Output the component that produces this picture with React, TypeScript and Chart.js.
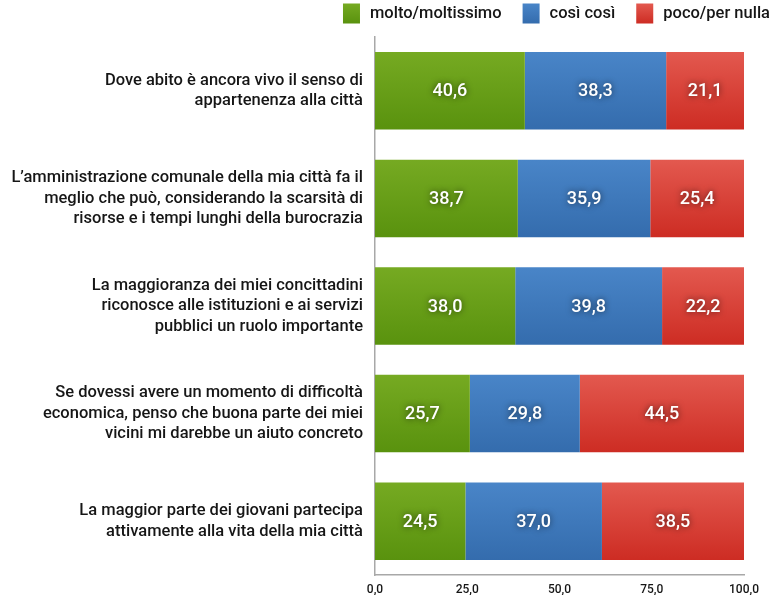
import React, { useEffect, useRef } from "react";
import { Chart, registerables } from "chart.js";
Chart.register(...registerables);

const categories: string[][] = [
  ["Dove abito è ancora vivo il senso di", "appartenenza alla città"],
  ["L’amministrazione comunale della mia città fa il", "meglio che può, considerando la scarsità di", "risorse e i tempi lunghi della burocrazia"],
  ["La maggioranza dei miei concittadini", "riconosce alle istituzioni e ai servizi", "pubblici un ruolo importante"],
  ["Se dovessi avere un momento di difficoltà", "economica, penso che buona parte dei miei", "vicini mi darebbe un aiuto concreto"],
  ["La maggior parte dei giovani partecipa", "attivamente alla vita della mia città"],
];
const seriesNames = ["molto/moltissimo", "così così", "poco/per nulla"];
const molto = [40.6, 38.7, 38.0, 25.7, 24.5];
const cosi = [38.3, 35.9, 39.8, 29.8, 37.0];
const poco = [21.1, 25.4, 22.2, 44.5, 38.5];
const xTicks = [0, 25, 50, 75, 100];

const palette = [
  ["#76aa22", "#59920e"],
  ["#4985c8", "#346cad"],
  ["#e3594f", "#cd2c23"],
];

const FONT = "Roboto, 'DejaVu Sans', sans-serif";
const TEXT = "#161616";

function grad(idx: number) {
  return (ctx: any) => {
    const chart = ctx.chart;
    const c = chart.ctx;
    const ys = chart.scales && chart.scales.y;
    if (!ys || ctx.type !== "data") return palette[idx][0];
    const y = ys.getPixelForValue(ctx.dataIndex);
    if (!isFinite(y)) return palette[idx][0];
    const half = 39;
    const g = c.createLinearGradient(0, y - half, 0, y + half);
    g.addColorStop(0, palette[idx][0]);
    g.addColorStop(1, palette[idx][1]);
    return g;
  };
}

const labelPlugin = {
  id: "valueLabels",
  afterDatasetsDraw(chart: any) {
    const c = chart.ctx;
    c.save();
    c.font = `500 18px ${FONT}`;
    c.textAlign = "center";
    c.textBaseline = "middle";
    chart.data.datasets.forEach((ds: any, i: number) => {
      const meta = chart.getDatasetMeta(i);
      meta.data.forEach((bar: any, j: number) => {
        const v = ds.data[j];
        const x = (bar.x + bar.base) / 2;
        c.shadowColor = "rgba(0,0,0,0.65)";
        c.shadowBlur = 6;
        c.fillStyle = "#ffffff";
        c.fillText(v.toFixed(1).replace(".", ","), x, bar.y + 1);
      });
    });
    c.restore();
  },
};

const legendPlugin = {
  id: "customLegend",
  afterDraw(chart: any) {
    const c = chart.ctx;
    c.save();
    c.font = `500 16.5px ${FONT}`;
    c.textBaseline = "middle";
    c.textAlign = "left";
    const boxW = 17;
    const boxH = 20;
    const gapBox = 10;
    const gapItem = 21;
    const widths = seriesNames.map((n) => c.measureText(n).width);
    const total = widths.reduce((a, w) => a + boxW + gapBox + w, 0) + gapItem * (seriesNames.length - 1);
    let x = 770 - total;
    const cy = 13.5;
    seriesNames.forEach((n, i) => {
      const g = c.createLinearGradient(0, cy - boxH / 2, 0, cy + boxH / 2);
      g.addColorStop(0, palette[i][0]);
      g.addColorStop(1, palette[i][1]);
      c.fillStyle = g;
      c.fillRect(x, cy - boxH / 2, boxW, boxH);
      x += boxW + gapBox;
      c.fillStyle = TEXT;
      c.fillText(n, x, cy);
      x += widths[i] + gapItem;
    });
    c.restore();
  },
};

export default function App() {
  const ref = useRef<HTMLCanvasElement>(null);
  useEffect(() => {
    document.body.style.margin = "0";
    const chart = new Chart(ref.current!, {
      type: "bar",
      data: {
        labels: categories,
        datasets: [molto, cosi, poco].map((d, i) => ({
          label: seriesNames[i],
          data: d,
          backgroundColor: grad(i),
          borderWidth: 0,
          barPercentage: 0.8,
          categoryPercentage: 0.9,
        })),
      },
      options: {
        indexAxis: "y",
        animation: false,
        responsive: false,
        maintainAspectRatio: false,
        layout: { padding: { left: 0, right: 27, top: 37, bottom: 2 } },
        plugins: {
          legend: { display: false },
          tooltip: { enabled: false },
        },
        scales: {
          x: {
            stacked: true,
            min: 0,
            max: 100,
            grid: { display: false, drawTicks: false },
            border: { display: true, color: "#a8a8a8", width: 1.5 },
            afterBuildTicks: (axis: any) => {
              axis.ticks = xTicks.map((v) => ({ value: v }));
            },
            afterFit: (axis: any) => {
              axis.height = 20;
            },
            ticks: {
              color: TEXT,
              padding: 8,
              maxRotation: 0,
              font: { family: FONT, size: 12, weight: 500 },
              callback: (v: any) => Number(v).toFixed(1).replace(".", ","),
            },
          },
          y: {
            stacked: true,
            grid: { display: false, drawTicks: false },
            border: { display: true, color: "#a8a8a8", width: 1.5 },
            afterFit: (axis: any) => {
              axis.width = 375;
              axis.paddingTop = 0;
              axis.paddingBottom = 0;
            },
            ticks: {
              color: TEXT,
              padding: 12,
              font: { family: FONT, size: 16.5, weight: 500, lineHeight: 1.25 },
            },
          },
        },
      },
      plugins: [labelPlugin, legendPlugin],
    } as any);
    return () => chart.destroy();
  }, []);
  return (
    <div style={{ width: 771, height: 597 }}>
      <canvas ref={ref} width={771} height={597} style={{ width: 771, height: 597 }} />
    </div>
  );
}
